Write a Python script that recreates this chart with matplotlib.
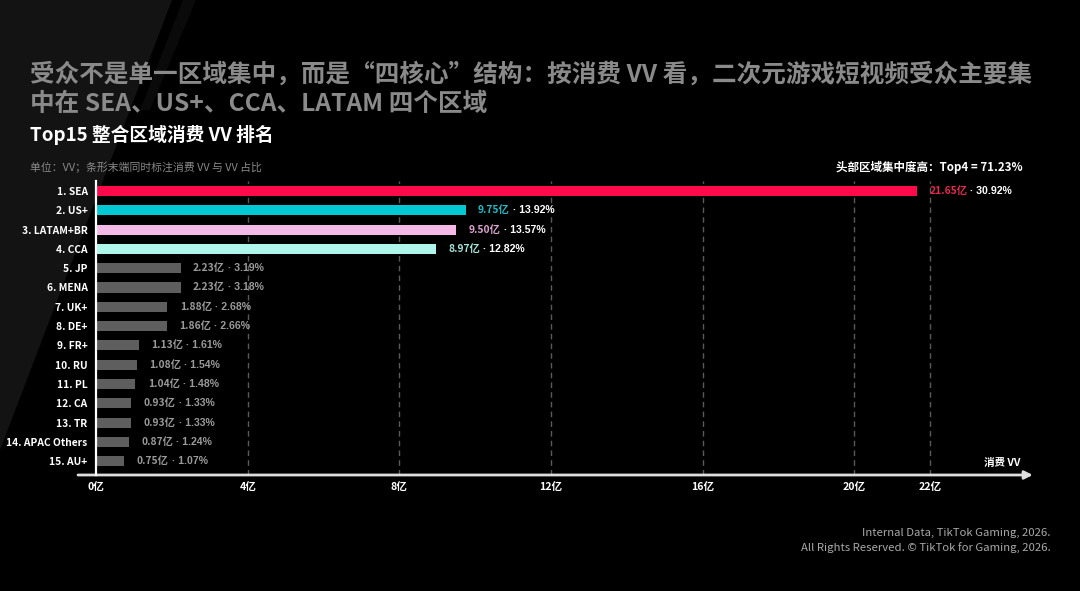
import matplotlib
matplotlib.use("Agg")
import matplotlib.pyplot as plt
from matplotlib.patches import Polygon

plt.rcParams['font.family'] = ['Noto Sans CJK SC', 'DejaVu Sans']

# data
regions = ['1. SEA', '2. US+', '3. LATAM+BR', '4. CCA', '5. JP', '6. MENA', '7. UK+',
           '8. DE+', '9. FR+', '10. RU', '11. PL', '12. CA', '13. TR',
           '14. APAC Others', '15. AU+']
vv = [21.65, 9.75, 9.50, 8.97, 2.23, 2.23, 1.88, 1.86, 1.13, 1.08, 1.04, 0.93, 0.93, 0.87, 0.75]
share = [30.92, 13.92, 13.57, 12.82, 3.19, 3.18, 2.68, 2.66, 1.61, 1.54, 1.48, 1.33, 1.33, 1.24, 1.07]
ticks = [0, 4, 8, 12, 16, 20, 22]

bar_colors = ['#fe0a4a', '#00c9d3', '#f5b9e8', '#aef5ec'] + ['#5e5e5e'] * 11
val_colors = ['#e8284f', '#1fbcc4', '#dba3cf', '#a2e3da'] + ['#9a9a9a'] * 11
pct_colors = ['#ffffff'] * 4 + ['#9a9a9a'] * 11

W, H = 1080, 591
fig = plt.figure(figsize=(W / 100, H / 100), dpi=100, facecolor='#000000')

# background diagonal shading, kept behind everything
bg = fig.add_axes([0, 0, 1, 1], zorder=-10)
bg.set_xlim(0, 1)
bg.set_ylim(0, 1)
bg.axis('off')
bg.add_patch(Polygon([(0, 1), (172 / W, 1), (0, 1 - 450 / H)], closed=True,
                     facecolor='#131313', edgecolor='none'))
bg.add_patch(Polygon([(183 / W, 1), (196 / W, 1), (150 / W, 1 - 110 / H), (140 / W, 1 - 110 / H)],
                     closed=True, facecolor='#0a0a0a', edgecolor='none'))

# titles
fig.text(30 / W, 1 - 74 / H, '受众不是单一区域集中，而是“四核心”结构：按消费 VV 看，二次元游戏短视频受众主要集',
         color='#8a8a8a', fontsize=17.7, fontweight='bold', va='center', ha='left')
fig.text(30 / W, 1 - 104 / H, '中在 SEA、US+、CCA、LATAM 四个区域',
         color='#8a8a8a', fontsize=17.7, fontweight='bold', va='center', ha='left')
fig.text(30 / W, 1 - 135 / H, 'Top15 整合区域消费 VV 排名', color='white', fontsize=13.5,
         fontweight='bold', va='center', ha='left')
fig.text(30 / W, 1 - 167 / H, '单位：VV；条形末端同时标注消费 VV 与 VV 占比', color='#8a8a8a',
         fontsize=7.8, va='center', ha='left')
fig.text(1023 / W, 1 - 167 / H, '头部区域集中度高：Top4 = 71.23%', color='white',
         fontsize=8.3, fontweight='bold', va='center', ha='right')

# footer
fig.text(1051 / W, 1 - 533 / H, 'Internal Data, TikTok Gaming, 2026.', color='#a8a8a8',
         fontsize=8.2, va='center', ha='right')
fig.text(1051 / W, 1 - 548 / H, 'All Rights Reserved. © TikTok for Gaming, 2026.', color='#a8a8a8',
         fontsize=8.2, va='center', ha='right')

# chart axes
ax = fig.add_axes([96 / W, 1 - 475 / H, (1030 - 96) / W, (475 - 181) / H])
ax.set_facecolor('none')
xmax = 22 * (1030 - 96) / (930 - 96)
ax.set_xlim(0, xmax)
ax.set_ylim(14.72, -0.52)

ypos = list(range(len(regions)))
ax.barh(ypos, vv, height=0.52, color=bar_colors, zorder=3)

for t in ticks[1:]:
    ax.axvline(t, color='#5a5a5a', lw=1, ls=(0, (4, 3)), zorder=1)

latin = ['Liberation Sans', 'Noto Sans CJK SC']
for i in ypos:
    t1 = ax.annotate(f'{vv[i]:.2f}亿', xy=(vv[i], i), xytext=(9, 0), textcoords='offset points',
                     va='center', ha='left', color=val_colors[i], fontsize=7.4, fontweight='bold',
                     zorder=4)
    ax.annotate(f' · {share[i]:.2f}%', xy=(1, 0.5), xycoords=t1, va='center', ha='left',
                color=pct_colors[i], fontsize=7.6, fontweight='bold', family=latin, zorder=4)

ax.set_yticks(ypos)
ax.set_yticklabels(regions, color='white', fontsize=7.4, fontweight='bold')
ax.set_xticks(ticks)
ax.set_xticklabels([f'{t}亿' for t in ticks], color='white', fontsize=7.6, fontweight='bold')
ax.tick_params(axis='both', length=0)
ax.tick_params(axis='y', pad=6)
ax.tick_params(axis='x', pad=5)

for s in ['top', 'right', 'bottom']:
    ax.spines[s].set_visible(False)
ax.spines['left'].set_color('white')
ax.spines['left'].set_linewidth(1.6)
ax.spines['left'].set_zorder(5)

# baseline with arrow
ax.annotate('', xy=(1.003, 0), xytext=(-18 / (1030 - 96), 0), xycoords='axes fraction',
            arrowprops=dict(arrowstyle='-|>', color='#dedede', lw=2, mutation_scale=12,
                            shrinkA=0, shrinkB=0), annotation_clip=False)
ax.text(0.99, 12 / (475 - 181), '消费 VV', transform=ax.transAxes, color='white',
        fontsize=7.6, fontweight='bold', ha='right', va='center')

fig.savefig('out.png', dpi=100, facecolor=fig.get_facecolor())
